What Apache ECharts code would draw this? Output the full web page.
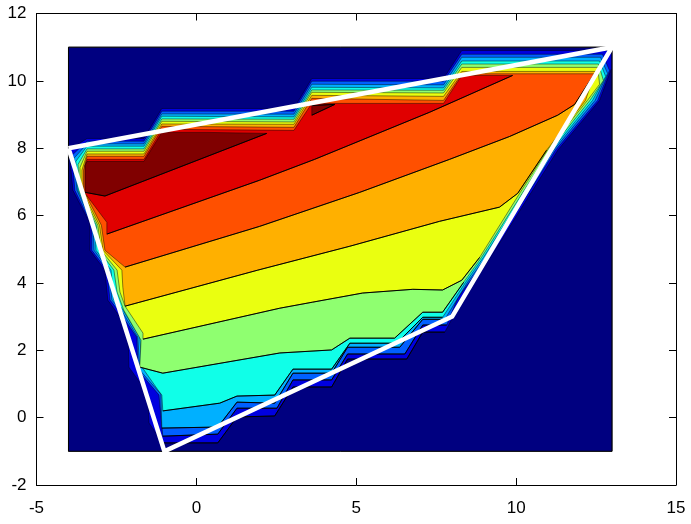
<!DOCTYPE html>
<html>
<head>
<meta charset="utf-8">
<style>html,body{margin:0;padding:0;background:#fff}#c{width:691px;height:524px}</style>
<script src="https://cdn.jsdelivr.net/npm/echarts@6/dist/echarts.min.js"></script>
</head>
<body>
<div id="c"></div>
<script>
const xTicks = [-5, 0, 5, 10, 15];
const yTicks = [-2, 0, 2, 4, 6, 8, 10, 12];
const hull = [[-4,8],[-1,-1],[8,3],[13,11],[-4,8]];
const levelColors = ['#000080','#0000DF','#0060FF','#00B0FF','#10FFE8','#8FFF70','#EAFF10','#FFB000','#FF5000','#E00000','#800000'];
const level0 = [[-4,-1],[13,-1],[13,11],[-4,11],[-4,-1]];
const level1 = [[-3.98,7.94],[-3.42,8.29],[-1.64,8.29],[-1.08,9.18],[3.05,9.18],[3.61,10.07],[7.73,10.07],[8.30,10.90],[12.98,10.90],[12.98,10.37],[12.61,9.42],[11.30,7.94],[9.20,4.76],[8.23,3.49],[8.02,2.98],[7.77,2.54],[7.08,2.54],[6.58,1.74],[4.73,1.74],[4.23,0.91],[3.02,0.91],[2.45,0.05],[1.27,0.02],[0.67,-0.75],[-1.05,-0.75],[-1.48,-0.16],[-1.52,0.72],[-2.11,1.50],[-2.14,2.66],[-2.77,3.49],[-2.86,4.38],[-3.33,4.97],[-3.33,5.77],[-3.86,6.75]];
const level2 = [[-3.89,7.79],[-3.42,8.21],[-1.64,8.21],[-1.08,9.10],[3.05,9.10],[3.61,9.99],[7.73,9.99],[8.30,10.79],[12.70,10.79],[12.92,10.31],[12.55,9.42],[11.23,7.94],[9.11,4.76],[8.17,3.55],[7.83,2.75],[7.08,2.75],[6.52,1.89],[4.73,1.89],[4.23,1.12],[3.02,1.12],[2.52,0.28],[1.27,0.28],[0.67,-0.49],[-1.05,-0.55],[-1.17,0.67],[-1.30,0.82],[-1.83,1.41],[-1.86,2.39],[-2.45,3.19],[-2.70,3.49],[-2.80,4.38],[-3.27,4.97],[-3.27,5.71],[-3.80,6.75]];
const level3 = [[-3.83,7.70],[-3.42,8.13],[-1.64,8.13],[-1.08,9.02],[3.05,9.01],[3.61,9.90],[7.73,9.88],[8.30,10.70],[12.64,10.70],[12.86,10.22],[12.47,9.42],[11.17,7.94],[9.05,4.76],[8.48,4.02],[7.77,2.92],[7.08,2.92],[6.36,2.09],[4.73,2.09],[4.23,1.32],[3.02,1.32],[2.45,0.43],[1.27,0.46],[0.67,-0.28],[-1.08,-0.31],[-1.11,0.70],[-1.77,1.41],[-1.83,2.39],[-2.33,3.16],[-2.64,3.49],[-2.73,4.38],[-3.20,4.97],[-3.23,5.71],[-3.73,6.75]];
const level4 = [[-3.77,7.61],[-3.42,8.06],[-1.64,8.06],[-1.08,8.95],[3.05,8.93],[3.61,9.81],[7.73,9.79],[8.30,10.59],[12.61,10.59],[12.80,10.13],[12.39,9.42],[11.11,7.94],[8.98,4.76],[8.42,4.02],[7.70,2.98],[7.08,2.98],[6.27,2.21],[4.80,2.21],[4.23,1.44],[3.02,1.44],[2.45,0.67],[1.27,0.64],[0.73,0.43],[-1.05,0.20],[-1.08,0.67],[-1.20,0.82],[-1.70,1.50],[-1.77,2.39],[-2.33,3.25],[-2.58,3.49],[-2.67,4.38],[-3.14,4.97],[-3.17,5.71],[-3.70,6.75]];
const level5 = [[-3.70,7.52],[-3.42,7.98],[-1.64,7.98],[-1.08,8.87],[3.05,8.86],[3.61,9.73],[7.73,9.72],[8.30,10.50],[12.58,10.50],[12.73,10.01],[12.31,9.42],[11.05,7.94],[8.92,4.76],[8.36,4.02],[7.70,3.13],[7.08,3.13],[6.20,2.36],[4.80,2.36],[4.23,2.01],[2.61,1.92],[-1.05,1.32],[-1.77,1.50],[-1.73,2.30],[-2.27,3.19],[-2.48,3.73],[-2.58,4.38],[-3.05,4.97],[-3.13,5.71],[-3.67,6.75]];
const level6 = [[-3.64,7.43],[-3.42,7.91],[-1.64,7.91],[-1.08,8.80],[3.05,8.78],[3.61,9.66],[7.73,9.64],[8.30,10.40],[12.55,10.40],[12.61,9.90],[12.23,9.42],[10.98,7.94],[10.11,6.66],[8.86,4.76],[8.30,4.08],[7.70,3.79],[6.77,3.81],[5.20,3.70],[3.64,3.43],[2.61,3.25],[-1.67,2.33],[-1.67,2.51],[-2.23,3.31],[-2.39,3.73],[-2.48,4.38],[-2.98,4.97],[-3.08,5.71],[-3.63,6.75]];
const level7 = [[-3.58,7.35],[-3.42,7.83],[-1.64,7.83],[-1.08,8.72],[3.05,8.71],[3.61,9.57],[7.73,9.54],[8.30,10.28],[12.50,10.28],[12.30,9.78],[12.17,9.42],[10.95,7.94],[10.05,6.66],[9.48,6.25],[7.61,5.83],[4.80,5.09],[1.92,4.38],[-2.23,3.31],[-2.30,3.87],[-2.33,4.38],[-2.92,4.97],[-3.03,5.71],[-3.58,6.75]];
const level8 = [[-3.53,7.35],[-3.42,7.76],[-1.64,7.76],[-1.08,8.65],[3.05,8.62],[3.61,9.48],[7.73,9.42],[8.30,10.21],[12.45,10.21],[11.83,9.30],[11.30,8.98],[9.80,8.35],[7.92,7.67],[5.11,6.69],[1.98,5.68],[-2.23,4.47],[-2.86,4.97],[-2.97,5.71],[-3.53,6.75]];
const level9 = [[-3.48,7.49],[-3.42,7.67],[-1.64,7.67],[-1.08,8.56],[3.05,8.53],[3.61,9.33],[7.73,9.33],[8.30,10.16],[9.89,10.16],[7.30,9.07],[3.70,7.67],[1.98,7.05],[-2.80,5.45],[-2.80,5.80],[-2.92,5.95],[-3.48,6.66]];
const level10a = [[-3.48,7.49],[-3.42,7.61],[-1.64,7.61],[-1.08,8.47],[0.33,8.47],[2.20,8.44],[-2.86,6.58],[-3.48,6.69]];
const level10b = [[3.61,9.27],[4.33,9.30],[3.61,8.98]];

// ring, colour index, first and last vertex of the contour line drawn in full weight
const bands = [
  [level0, 0, 0, 4], [level1, 1, 15, 24], [level2, 2, 14, 23], [level3, 3, 14, 23],
  [level4, 4, 14, 23], [level5, 5, 13, 21], [level6, 6, 13, 20], [level7, 7, 11, 17],
  [level8, 8, 8, 15], [level9, 9, 8, 12], [level10a, 10, 5, 7], [level10b, 10, 0, 2]
];

const font = {fontFamily: '"Liberation Sans", Arial, sans-serif', fontSize: 17, color: '#000'};
const tick = {show: true, inside: true, length: 7, lineStyle: {color: '#000', width: 1}};
const line = {show: true, onZero: false, lineStyle: {color: '#000', width: 1}};

function xAxis(pos, labels) {
  return {type: 'value', position: pos, min: xTicks[0], max: xTicks[xTicks.length - 1], interval: 5,
    axisLine: line, axisTick: tick, splitLine: {show: false},
    axisLabel: Object.assign({show: labels, margin: 15, hideOverlap: false, showMinLabel: true, showMaxLabel: true}, font)};
}
function yAxis(pos, labels) {
  return {type: 'value', position: pos, min: yTicks[0], max: yTicks[yTicks.length - 1], interval: 2,
    axisLine: line, axisTick: tick, splitLine: {show: false},
    axisLabel: Object.assign({show: labels, margin: 10, hideOverlap: false, showMinLabel: true, showMaxLabel: true}, font)};
}

const chart = echarts.init(document.getElementById('c'), null, {renderer: 'canvas'});
chart.setOption({
  animation: false,
  backgroundColor: '#fff',
  grid: {left: 36.5, top: 13.5, right: 15, bottom: 39, containLabel: false},
  xAxis: [xAxis('bottom', true), xAxis('top', false)],
  yAxis: [yAxis('left', true), yAxis('right', false)],
  tooltip: {show: false},
  series: [
    {
      type: 'custom',
      coordinateSystem: 'cartesian2d',
      clip: false,
      silent: true,
      z: 2,
      data: bands.map((b, i) => [b[0][0][0], b[0][0][1], i]),
      encode: {x: 0, y: 1},
      renderItem: function (params, api) {
        const band = bands[api.value(2)];
        const pts = band[0].map(p => api.coord(p));
        return {
          type: 'group',
          children: [
            {type: 'polygon', shape: {points: pts},
             style: {fill: levelColors[band[1]], stroke: '#000', lineWidth: 0.45}},
            {type: 'polyline', shape: {points: pts.slice(band[2], band[3] + 1)},
             style: {fill: null, stroke: '#000', lineWidth: 1}}
          ]
        };
      }
    },
    {
      type: 'line',
      data: hull,
      symbol: 'none',
      silent: true,
      z: 3,
      clip: false,
      lineStyle: {color: '#fff', width: 4.5, join: 'miter'}
    }
  ]
});
</script>
</body>
</html>
